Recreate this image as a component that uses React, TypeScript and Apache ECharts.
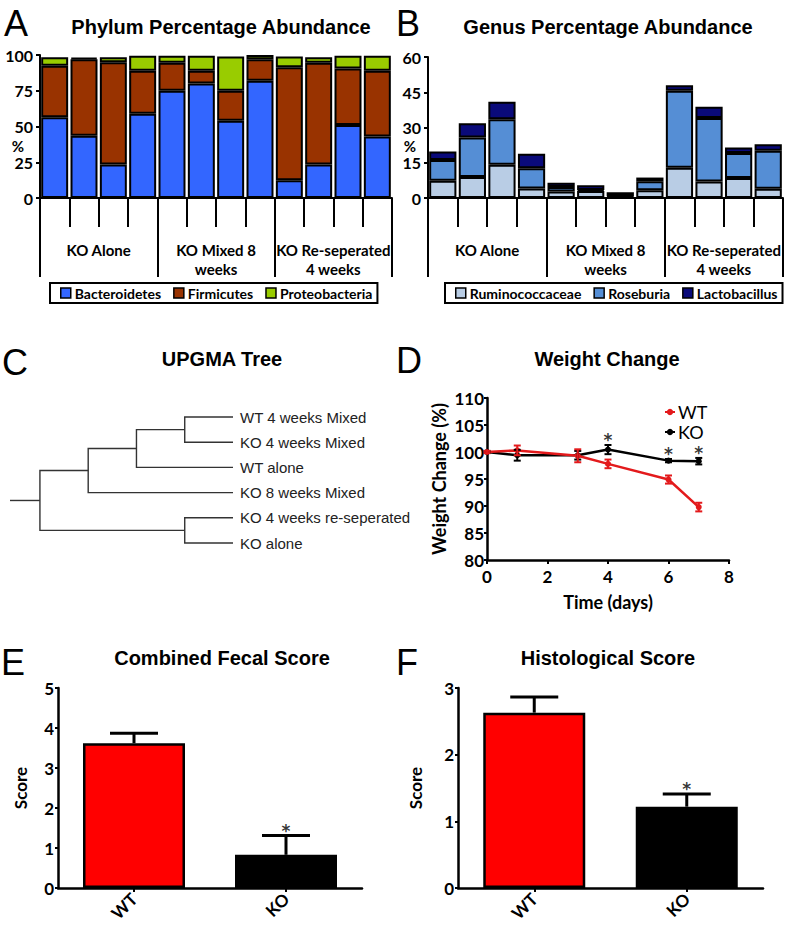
import React, { useEffect, useRef } from "react";
import * as echarts from "echarts";

const CAL = "Lato, 'Open Sans', sans-serif";
const ARIAL = "'Liberation Sans', Arial, Helvetica, sans-serif";
const STAR = "'DejaVu Sans', sans-serif";

// ---------- Panel A / B : samples and groups ----------
const sampleLabels = ["S1", "S2", "S3", "S4", "S5", "S6", "S7", "S8", "S9", "S10", "S11", "S12"];
const groupLabels = ["KO Alone", "KO Mixed 8\nweeks", "KO Re-seperated\n4 weeks"];

// Phylum percentage abundance (stacked)
const bacteroidetes = [56.5, 43.5, 23.5, 59, 75, 80, 54, 82, 12.5, 23.5, 51, 43];
const firmicutes = [36, 53.5, 71.5, 30, 19.5, 9, 21, 15, 79, 71, 39.5, 46];
const proteobacteria = [6, 1, 3.5, 10.5, 5, 10.5, 24, 3, 7.5, 4, 9, 10.5];

// Genus percentage abundance (stacked)
const ruminococcaceae = [7.3, 8.9, 14.1, 4.0, 2.8, 3.0, 0.4, 3.3, 12.9, 7.0, 8.5, 3.9];
const roseburia = [8.9, 16.8, 19.4, 8.7, 1.9, 0.4, 0.3, 3.8, 32.7, 27.0, 10.6, 16.2];
const lactobacillus = [3.6, 6.1, 7.5, 6.1, 1.8, 2.0, 1.8, 1.6, 2.4, 4.8, 2.4, 2.8];

// ---------- Panel C : UPGMA tree ----------
const treeLeaves = [
  "WT 4 weeks Mixed",
  "KO 4 weeks Mixed",
  "WT alone",
  "KO 8 weeks Mixed",
  "KO 4 weeks re-seperated",
  "KO alone",
];
// [childA, childB, merge height]; new internal nodes get ids 6, 7, ...
const treeMerges = [
  [0, 1, 1.0],
  [6, 2, 2.0],
  [7, 3, 3.0],
  [4, 5, 1.0],
  [8, 9, 4.0],
];
const treeRootStub = 0.62;

// ---------- Panel D : weight change ----------
const weightDays = [0, 1, 3, 4, 6, 7];
const wtWeight = [100, 100.3, 99.3, 97.8, 94.9, 89.8];
const wtErr = [0.2, 0.9, 1.2, 0.8, 0.75, 0.8];
const koWeight = [100, 99.4, 99.4, 100.45, 98.4, 98.3];
const koErr = [0.2, 1.0, 0.8, 0.85, 0.3, 0.6];
const koSignificant = [0, 0, 0, 1, 1, 1];

// ---------- Panels E / F : scores ----------
const scoreGroups = ["WT", "KO"];
const fecalScore = [3.62, 0.83];
const fecalErr = [0.25, 0.48];
const fecalSig = [0, 1];
const histoScore = [2.63, 1.22];
const histoErr = [0.235, 0.19];
const histoSig = [0, 1];

const RED = "#E31A1C";

function buildTree() {
  const pos: number[][] = treeLeaves.map((_, i) => [0, i]);
  const segs: number[][] = [];
  treeMerges.forEach(([a, b, h]) => {
    const pa = pos[a];
    const pb = pos[b];
    segs.push([pa[0], pa[1], pb[0], pb[1], h]);
    pos.push([h, (pa[1] + pb[1]) / 2]);
  });
  const root = pos[pos.length - 1];
  return { segs, root };
}

function errorBarSeries(name: string, xAxisIndex: number, yAxisIndex: number, data: number[][], color: string, capHalf: number, lw: number, both: boolean) {
  return {
    name,
    type: "custom",
    xAxisIndex,
    yAxisIndex,
    z: 10,
    clip: false,
    itemStyle: { color },
    data,
    renderItem: (params: any, api: any) => {
      const x = api.value(0);
      const y = api.value(1);
      const e = api.value(2);
      const top = api.coord([x, y + e]);
      const bot = api.coord([x, both ? y - e : y]);
      const children: any[] = [
        { type: "line", shape: { x1: top[0], y1: top[1], x2: bot[0], y2: bot[1] }, style: { stroke: color, lineWidth: lw } },
        { type: "line", shape: { x1: top[0] - capHalf, y1: top[1], x2: top[0] + capHalf, y2: top[1] }, style: { stroke: color, lineWidth: lw } },
      ];
      if (both) {
        children.push({ type: "line", shape: { x1: bot[0] - capHalf, y1: bot[1], x2: bot[0] + capHalf, y2: bot[1] }, style: { stroke: color, lineWidth: lw } });
      }
      return { type: "group", children };
    },
  };
}

// significance stars placed just above the error-bar top
function starSeries(name: string, xAxisIndex: number, yAxisIndex: number, data: number[][], dist: number) {
  return {
    name,
    type: "scatter",
    xAxisIndex,
    yAxisIndex,
    z: 12,
    symbol: "circle",
    symbolSize: 1,
    itemStyle: { color: "rgba(0,0,0,0)" },
    silent: true,
    data,
    label: {
      show: true,
      position: "top",
      distance: dist,
      formatter: "*",
      color: "#000",
      fontFamily: STAR,
      fontWeight: "bold",
      fontSize: 17,
      lineHeight: 11,
    },
  };
}

export default function App() {
  const ref = useRef<HTMLDivElement>(null);

  useEffect(() => {
    document.body.style.margin = "0";
    if (!ref.current) return;
    const chart = echarts.init(ref.current, undefined, { renderer: "svg" });

    const tree = buildTree();
    const boldTxt = (size: number) => ({ fontFamily: CAL, fontWeight: "bold" as const, fontSize: size, color: "#000" });
    const letter = (t: string, x: number, y: number) => ({
      type: "text", x, y,
      style: { text: t, font: `36px ${ARIAL}`, fill: "#000", verticalAlign: "middle", align: "left" },
    });
    const title = (t: string, x: number, y: number) => ({
      type: "text", x, y,
      style: { text: t, font: `bold 20px ${ARIAL}`, fill: "#000", verticalAlign: "middle", align: "center" },
    });

    const sampleAxis = (gridIndex: number) => ({
      type: "category", gridIndex, position: "bottom", data: sampleLabels,
      axisLine: { lineStyle: { color: "#000", width: 2 } },
      axisTick: { show: true, interval: 0, length: 29, lineStyle: { color: "#000", width: 2 } },
      axisLabel: { show: false },
    });
    const groupAxis = (gridIndex: number) => ({
      type: "category", gridIndex, position: "bottom", offset: 0, data: groupLabels,
      axisLine: { show: false },
      axisTick: { show: true, interval: 0, length: 79, lineStyle: { color: "#000", width: 2 } },
      axisLabel: { show: true, interval: 0, margin: 42, ...boldTxt(15), lineHeight: 19, verticalAlign: "top" },
    });
    const pctAxis = (gridIndex: number, max: number, interval: number) => ({
      type: "value", gridIndex, min: 0, max, interval,
      axisLine: { show: true, lineStyle: { color: "#000", width: 2 } },
      axisTick: { show: true, length: 4, lineStyle: { color: "#000", width: 2 } },
      axisLabel: { margin: 7, ...boldTxt(16) },
      splitLine: { show: false },
    });
    const stackBar = (name: string, data: number[], stack: string, axis: number, color: string) => ({
      name, type: "bar", stack, xAxisIndex: axis === 0 ? 0 : 2, yAxisIndex: axis, data,
      barCategoryGap: "8%",
      itemStyle: { color, borderColor: "#000", borderWidth: 2 },
    });
    const legendBox = (names: string[], left: number) => ({
      data: names, left, top: 283, orient: "horizontal", selectedMode: false,
      icon: "rect", itemWidth: 10, itemHeight: 10, itemGap: 12,
      padding: [3, 5, 3, 10],
      borderColor: "#000", borderWidth: 2,
      itemStyle: { borderColor: "#000", borderWidth: 1.5 },
      textStyle: { ...boldTxt(14), lineHeight: 14, padding: [0, 0, 0, -1] },
    });
    const scoreXAxis = (gridIndex: number) => ({
      type: "category", gridIndex, data: scoreGroups,
      axisLine: { lineStyle: { color: "#000", width: 2.5 } },
      axisTick: { show: true, alignWithLabel: true, length: 4, lineStyle: { color: "#000", width: 2 } },
      axisLabel: { rotate: 45, margin: 8, ...boldTxt(17) },
    });
    const scoreYAxis = (gridIndex: number, max: number, gap: number) => ({
      type: "value", gridIndex, min: 0, max, interval: 1,
      name: "Score", nameLocation: "middle", nameRotate: 90, nameGap: gap,
      nameTextStyle: boldTxt(17),
      axisLine: { show: true, lineStyle: { color: "#000", width: 2.5 } },
      axisTick: { show: true, length: 3, lineStyle: { color: "#000", width: 2 } },
      axisLabel: { margin: 4, ...boldTxt(17) },
      splitLine: { show: false },
    });

    const option: any = {
      animation: false,
      backgroundColor: "#fff",
      textStyle: { fontFamily: CAL },
      graphic: [
        letter("A", 4, 23), letter("B", 396, 23), letter("C", 2, 362), letter("D", 396, 360), letter("E", 1, 662), letter("F", 396, 662),
        title("Phylum Percentage Abundance", 221, 27),
        title("Genus Percentage Abundance", 608, 27),
        title("UPGMA Tree", 222, 359),
        title("Weight Change", 607, 359),
        title("Combined Fecal Score", 222, 658),
        title("Histological Score", 608, 658),
        { type: "text", x: 18, y: 146, style: { text: "%", font: `bold 15px ${CAL}`, fill: "#000", align: "center", verticalAlign: "middle" } },
        { type: "text", x: 410, y: 146, style: { text: "%", font: `bold 15px ${CAL}`, fill: "#000", align: "center", verticalAlign: "middle" } },
      ],
      legend: [
        legendBox(["Bacteroidetes", "Firmicutes", "Proteobacteria"], 50),
        legendBox(["Ruminococcaceae", "Roseburia", "Lactobacillus"], 445),
        {
          data: ["WT", "KO"], left: 659, top: 398, orient: "vertical", selectedMode: false,
          itemWidth: 10, itemHeight: 8, itemGap: 2,
          textStyle: { fontFamily: CAL, fontSize: 18, color: "#000", lineHeight: 18, padding: [0, 0, 0, -2] },
        },
      ],
      grid: [
        { left: 40, top: 55, width: 352, height: 143 },
        { left: 428, top: 57, width: 355, height: 141 },
        { left: 10, top: 404.4, width: 223, height: 151.2 },
        { left: 487, top: 398, width: 242, height: 162 },
        { left: 58, top: 688, width: 304, height: 200 },
        { left: 458, top: 688, width: 305, height: 200 },
      ],
      xAxis: [
        sampleAxis(0),
        groupAxis(0),
        sampleAxis(1),
        groupAxis(1),
        { type: "value", gridIndex: 2, min: 0, max: 4 + treeRootStub, inverse: true, show: false },
        {
          type: "value", gridIndex: 3, min: 0, max: 8, interval: 2,
          name: "Time (days)", nameLocation: "middle", nameGap: 33, nameTextStyle: boldTxt(18),
          axisLine: { lineStyle: { color: "#000", width: 2.5 } },
          axisTick: { show: true, length: 4, lineStyle: { color: "#000", width: 2 } },
          axisLabel: { margin: 8, ...boldTxt(17) },
          splitLine: { show: false },
        },
        scoreXAxis(4),
        scoreXAxis(5),
      ],
      yAxis: [
        pctAxis(0, 100, 25),
        pctAxis(1, 60, 15),
        { type: "value", gridIndex: 2, min: -0.5, max: treeLeaves.length - 0.5, inverse: true, show: false },
        {
          type: "value", gridIndex: 3, min: 80, max: 110, interval: 5,
          name: "Weight Change (%)", nameLocation: "middle", nameRotate: 90, nameGap: 39, nameTextStyle: boldTxt(18),
          axisLine: { show: true, lineStyle: { color: "#000", width: 2.5 } },
          axisTick: { show: true, length: 3, lineStyle: { color: "#000", width: 2 } },
          axisLabel: { margin: 3, ...boldTxt(17) },
          splitLine: { show: false },
        },
        scoreYAxis(4, 5, 29),
        scoreYAxis(5, 3, 34),
      ],
      series: [
        stackBar("Bacteroidetes", bacteroidetes, "phylum", 0, "#3366FF"),
        stackBar("Firmicutes", firmicutes, "phylum", 0, "#993300"),
        stackBar("Proteobacteria", proteobacteria, "phylum", 0, "#99CC00"),
        stackBar("Ruminococcaceae", ruminococcaceae, "genus", 1, "#B9CDE5"),
        stackBar("Roseburia", roseburia, "genus", 1, "#558ED5"),
        stackBar("Lactobacillus", lactobacillus, "genus", 1, "#0A0A7A"),
        {
          name: "tree", type: "custom", xAxisIndex: 4, yAxisIndex: 2, clip: false,
          itemStyle: { color: "#333" },
          data: tree.segs,
          renderItem: (params: any, api: any) => {
            const p1 = api.coord([api.value(0), api.value(1)]);
            const p2 = api.coord([api.value(4), api.value(1)]);
            const p3 = api.coord([api.value(4), api.value(3)]);
            const p4 = api.coord([api.value(2), api.value(3)]);
            return { type: "polyline", shape: { points: [p1, p2, p3, p4] }, style: { stroke: "#333", lineWidth: 1.4, fill: "none" } };
          },
        },
        {
          name: "treeRoot", type: "custom", xAxisIndex: 4, yAxisIndex: 2, clip: false,
          itemStyle: { color: "#333" },
          data: [[tree.root[0], tree.root[1], tree.root[0] + treeRootStub]],
          renderItem: (params: any, api: any) => {
            const p1 = api.coord([api.value(0), api.value(1)]);
            const p2 = api.coord([api.value(2), api.value(1)]);
            return { type: "line", shape: { x1: p1[0], y1: p1[1], x2: p2[0], y2: p2[1] }, style: { stroke: "#333", lineWidth: 1.4 } };
          },
        },
        {
          name: "treeLeaves", type: "custom", xAxisIndex: 4, yAxisIndex: 2, clip: false,
          itemStyle: { color: "#222" },
          data: treeLeaves.map((_, i) => [0, i]),
          renderItem: (params: any, api: any) => {
            const p = api.coord([api.value(0), api.value(1)]);
            return {
              type: "text", x: p[0] + 7, y: p[1],
              style: { text: treeLeaves[params.dataIndex], font: `15px ${ARIAL}`, fill: "#222", verticalAlign: "middle", align: "left" },
            };
          },
        },
        {
          name: "KO", type: "line", xAxisIndex: 5, yAxisIndex: 3,
          data: weightDays.map((d, i) => [d, koWeight[i]]),
          symbol: "circle", symbolSize: 6, color: "#000",
          lineStyle: { color: "#000", width: 2.5 }, itemStyle: { color: "#000" }, z: 3,
        },
        {
          name: "WT", type: "line", xAxisIndex: 5, yAxisIndex: 3,
          data: weightDays.map((d, i) => [d, wtWeight[i]]),
          symbol: "circle", symbolSize: 6, color: RED,
          lineStyle: { color: RED, width: 2.5 }, itemStyle: { color: RED }, z: 4,
        },
        errorBarSeries("koErr", 5, 3, weightDays.map((d, i) => [d, koWeight[i], koErr[i]]), "#000", 3.5, 2, true),
        errorBarSeries("wtErr", 5, 3, weightDays.map((d, i) => [d, wtWeight[i], wtErr[i]]), RED, 3.5, 2, true),
        starSeries("koStars", 5, 3, weightDays.map((d, i) => [d, koWeight[i] + koErr[i]]).filter((_, i) => koSignificant[i]), -1),
        {
          name: "fecal", type: "bar", xAxisIndex: 6, yAxisIndex: 4, barWidth: 102,
          data: fecalScore.map((v, i) => ({ value: v, itemStyle: { color: i === 0 ? "#FF0000" : "#000" } })),
          itemStyle: { borderColor: "#000", borderWidth: 2.5 },
        },
        errorBarSeries("fecalErr", 6, 4, fecalScore.map((v, i) => [i, v, fecalErr[i]]), "#000", 24, 3, false),
        starSeries("fecalStars", 6, 4, fecalScore.map((v, i) => [i, v + fecalErr[i]]).filter((_, i) => fecalSig[i]), -1),
        {
          name: "histo", type: "bar", xAxisIndex: 7, yAxisIndex: 5, barWidth: 102,
          data: histoScore.map((v, i) => ({ value: v, itemStyle: { color: i === 0 ? "#FF0000" : "#000" } })),
          itemStyle: { borderColor: "#000", borderWidth: 2.5 },
        },
        errorBarSeries("histoErr", 7, 5, histoScore.map((v, i) => [i, v, histoErr[i]]), "#000", 24, 3, false),
        starSeries("histoStars", 7, 5, histoScore.map((v, i) => [i, v + histoErr[i]]).filter((_, i) => histoSig[i]), -1),
      ],
    };

    chart.setOption(option);
    return () => chart.dispose();
  }, []);

  return <div ref={ref} style={{ width: 786, height: 929 }} />;
}
